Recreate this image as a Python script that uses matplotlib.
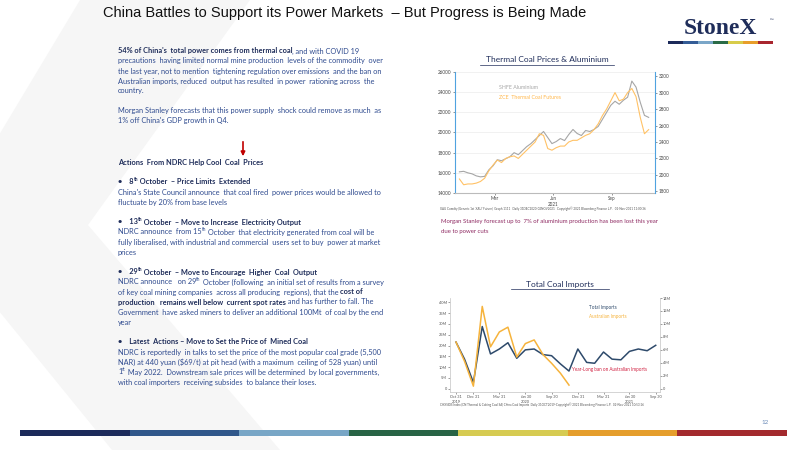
import numpy as np
import pandas as pd
import matplotlib
matplotlib.use("Agg")
import matplotlib.pyplot as plt
from matplotlib.patches import Polygon, Rectangle

plt.rcParams['font.family'] = ['Lato', 'DejaVu Sans']

# ---- data: thermal coal vs aluminium (weekly, 2021) ----
alu_shfe = [16100, 16150, 16000, 15900, 15700, 15600, 15650, 16300,
            16700, 17300, 17200, 17400, 17600, 18000, 17800, 18200, 18600,
            18900, 19300, 19700, 20100, 19500, 18900, 19100, 19400, 19200,
            19800, 20300, 19900, 19700, 20200, 20100, 20300, 20600, 21300,
            22000, 22700, 23100, 22800, 23200, 23500, 25100, 24500, 23000,
            21700, 21500]
coal_zce = [1950, 1880, 1890, 1890, 1900, 1920, 1960, 2050,
            2120, 2180, 2150, 2200, 2220, 2230, 2200, 2250, 2300,
            2350, 2400, 2500, 2480, 2320, 2300, 2330, 2350, 2350,
            2400, 2420, 2420, 2450, 2480, 2500, 2550, 2620, 2720,
            2800, 2900, 3000, 2900, 2920, 3000, 3050, 2950, 2700,
            2500, 2550]
price_dates = pd.date_range("2021-01-04", "2021-10-29", periods=len(alu_shfe))

# ---- data: monthly coal imports (millions of tonnes) ----
total_imports = [21.6, 13.7, 2.9, 28.8, 16.1, 18.4, 21.3, 14.1, 18.0, 18.4,
                 15.8, 15.3, 11.5, 8.2, 18.4, 12.2, 11.8, 17.0, 13.7, 13.4,
                 17.3, 18.4, 17.6, 20.1]
aus_imports = [21.6, 12.7, 1.2, 38.1, 19.4, 26.3, 28.5, 14.7, 20.9, 22.6,
               15.8, 11.8, 7.2, 1.7]
import_dates = pd.date_range("2019-10-31", periods=len(total_imports), freq="ME")

NAVY = "#1F2D5A"
BLUE = "#2F4B8F"

fig = plt.figure(figsize=(8, 4.5), dpi=100)
bg = fig.add_axes([0, 0, 1, 1], zorder=0)
bg.set_xlim(0, 800)
bg.set_ylim(450, 0)
bg.axis("off")

# watermark chevron
bg.add_patch(Polygon([(250, 0), (88, 225), (280, 450), (112, 450), (-10, 300),
                      (-10, 150), (80, 0)], closed=True, fc="#F6F6F6", ec="none"))

# title
bg.text(345, 13, "China Battles to Support its Power Markets  \u2013 But Progress is Being Made",
        ha="center", va="center", fontsize=10.5, color="#111111",
        family=["Liberation Sans", "DejaVu Sans"])

# logo
bg.text(720, 29, "StoneX", ha="center", va="center", fontsize=17, fontweight="bold",
        color=NAVY, family=["Liberation Serif", "DejaVu Serif"])
bg.text(770, 22, "\u2122", fontsize=3.5, color=NAVY)
logo_cols = ["#1C2A5A", "#345C96", "#7AA6C8", "#2A6B47", "#D8CC4A", "#E89E2A", "#A8262E"]
for i, c in enumerate(logo_cols):
    bg.add_patch(Rectangle((668 + i * 15, 41), 15, 3, fc=c, ec="none"))

# bottom bar
bar_cols = ["#1C2A5A", "#30578A", "#78A6C6", "#286445", "#D6CB52", "#E59E2C", "#A32A2E"]
for i, c in enumerate(bar_cols):
    bg.add_patch(Rectangle((20 + i * 109.5, 430), 109.5, 5.5, fc=c, ec="none"))
bg.text(765, 423, "12", fontsize=4.5, color="#6A8AB8", ha="center", va="center")

fig.canvas.draw()
renderer = fig.canvas.get_renderer()


def seg_line(x, y, segs, size=5.3):
    """Draw a line made of (text, bold, superscript) pieces side by side."""
    for txt, bold, sup in segs:
        fs = size * 0.65 if sup else size
        dy = -2.5 if sup else 0
        t = bg.text(x, y + dy, txt, fontsize=fs, va="center", ha="left",
                    color=NAVY if bold else BLUE,
                    fontweight="bold" if bold else "normal")
        x += t.get_window_extent(renderer).width


N, B, S = False, True, True
lines = [
    (51, [("54% of China's  total power comes from thermal coal", B, N),
          (", and with COVID 19", N, N)]),
    (61, [("precautions  having limited normal mine production  levels of the commodity  over", N, N)]),
    (71, [("the last year, not to mention  tightening regulation over emissions  and the ban on", N, N)]),
    (81, [("Australian imports, reduced  output has resulted  in power  rationing across  the", N, N)]),
    (91, [("country.", N, N)]),
    (110, [("Morgan Stanley forecasts that this power supply  shock could remove as much  as", N, N)]),
    (120, [("1% off China's GDP growth in Q4.", N, N)]),
    (162, [("Actions  From NDRC Help Cool  Coal  Prices", B, N)]),
    (182, [("\u2022    8", B, N), ("th", B, S), (" October  \u2013 Price Limits  Extended", B, N)]),
    (192, [("China's State Council announce  that coal fired  power prices would be allowed to", N, N)]),
    (202, [("fluctuate by 20% from base levels", N, N)]),
    (222, [("\u2022    13", B, N), ("th", B, S), (" October  \u2013 Move to Increase  Electricity Output", B, N)]),
    (232, [("NDRC announce  from 15", N, N), ("th", N, S),
           (" October  that electricity generated from coal will be", N, N)]),
    (242, [("fully liberalised, with industrial and commercial  users set to buy  power at market", N, N)]),
    (252, [("prices", N, N)]),
    (272, [("\u2022    29", B, N), ("th", B, S), (" October  \u2013 Move to Encourage  Higher  Coal  Output", B, N)]),
    (282, [("NDRC announce   on 29", N, N), ("th", N, S),
           (" October (following  an initial set of results from a survey", N, N)]),
    (292, [("of key coal mining companies  across all producing  regions), that the ", N, N),
           ("cost of", B, N)]),
    (302, [("production   remains well below  current spot rates", B, N),
           (" and has further to fall. The", N, N)]),
    (312, [("Government  have asked miners to deliver an additional 100Mt  of coal by the end", N, N)]),
    (322, [("year", N, N)]),
    (342, [("\u2022    Latest  Actions \u2013 Move to Set the Price of  Mined Coal", B, N)]),
    (352, [("NDRC is reportedly  in talks to set the price of the most popular coal grade (5,500", N, N)]),
    (362, [("NAR) at 440 yuan ($69/t) at pit head (with a maximum  ceiling of 528 yuan) until", N, N)]),
    (372, [("1", N, N), ("st", N, S),
           (" May 2022.  Downstream sale prices will be determined  by local governments,", N, N)]),
    (382, [("with coal importers  receiving subsides  to balance their loses.", N, N)]),
]
for y, segs in lines:
    seg_line(118, y, segs)

bg.annotate("", xy=(243, 159), xytext=(243, 139),
            arrowprops=dict(arrowstyle="-|>", color="#C00000", lw=1.2, mutation_scale=6))

# ---- top chart ----
ax1 = fig.add_axes([455 / 800, 1 - 193 / 450, 200 / 800, 121 / 450], zorder=2)
ax1.plot(price_dates, alu_shfe, color="#A6A6A6", lw=0.8)
ax1.set_ylim(14000, 26000)
ax1.set_yticks(range(14000, 26001, 2000))
ax1r = ax1.twinx()
ax1r.plot(price_dates, coal_zce, color="#FFC266", lw=0.8)
ax1r.set_ylim(1780, 3250)
ax1r.set_yticks(range(1800, 3201, 200))
ax1.set_xlim(pd.Timestamp("2020-12-28"), pd.Timestamp("2021-11-08"))
ax1.set_xticks([pd.Timestamp("2021-03-01"), pd.Timestamp("2021-06-01"), pd.Timestamp("2021-09-01")])
ax1.set_xticklabels(["Mar", "Jun\n2021", "Sep"])
for a in (ax1, ax1r):
    a.tick_params(labelsize=3.3, length=1.5, width=0.4, pad=1, colors="#444444")
    for s in a.spines.values():
        s.set_visible(False)
ax1.spines["left"].set_visible(True)
ax1.spines["left"].set_color("#4FA3E0")
ax1.spines["bottom"].set_visible(True)
ax1.spines["bottom"].set_color("#BBBBBB")
ax1r.spines["right"].set_visible(True)
ax1r.spines["right"].set_color("#4FA3E0")
ax1.grid(axis="y", color="#E6E6E6", lw=0.4)
ax1.text(0.22, 0.86, "SHFE Aluminium", transform=ax1.transAxes, fontsize=3.8, color="#A6A6A6")
ax1.text(0.22, 0.78, "ZCE  Thermal Coal Futures", transform=ax1.transAxes, fontsize=3.8, color="#FFB84D")

bg.text(547, 60, "Thermal Coal Prices & Aluminium", ha="center", va="center",
        fontsize=6, color=NAVY)
bg.plot([480, 614], [65, 65], color=NAVY, lw=0.5)
bg.text(440, 209, "XAU Comdty (Generic 1st 'XAU' Future)  Graph 1111   Daily 31DEC2020-02NOV2021   "
        "Copyright\u00a9 2021 Bloomberg Finance L.P.   02-Nov-2021 11:00:36",
        fontsize=2.2, color="#555555", va="center")
bg.text(441, 222, "Morgan Stanley forecast up to  7% of aluminium production has been lost this year",
        fontsize=4.3, color="#8E2A62", va="center")
bg.text(441, 232, "due to power cuts", fontsize=4.3, color="#8E2A62", va="center")

# ---- bottom chart ----
ax2 = fig.add_axes([450 / 800, 1 - 392 / 450, 210 / 800, 94 / 450], zorder=2)
ax2.plot(import_dates, total_imports, color="#2E4A6B", lw=1.1)
ax2.plot(import_dates[:len(aus_imports)], aus_imports, color="#F6B33C", lw=1.1)
ax2.set_ylim(-1.5, 42)
ax2.set_yticks(range(0, 41, 5))
ax2.set_yticklabels(["0"] + [f"{v}M" for v in range(5, 41, 5)])
ax2r = ax2.twinx()
ax2r.set_ylim(-0.5, 14)
ax2r.set_yticks(range(0, 15, 2))
ax2r.set_yticklabels(["0"] + [f"{v}M" for v in range(2, 15, 2)])
ax2.set_xlim(pd.Timestamp("2019-10-10"), pd.Timestamp("2021-10-15"))
tick_d = ["2019-10-31", "2019-12-31", "2020-03-31", "2020-06-30", "2020-09-30",
          "2020-12-31", "2021-03-31", "2021-06-30", "2021-09-30"]
tick_l = ["Oct 31\n2019", "Dec 31", "Mar 31", "Jun 30\n2020", "Sep 30",
          "Dec 31", "Mar 31", "Jun 30\n2021", "Sep 30"]
ax2.set_xticks([pd.Timestamp(d) for d in tick_d])
ax2.set_xticklabels(tick_l)
for a in (ax2, ax2r):
    a.tick_params(labelsize=2.8, length=1.2, width=0.4, pad=1, colors="#555555")
    for s in a.spines.values():
        s.set_color("#CCCCCC")
        s.set_linewidth(0.4)
ax2.spines["top"].set_visible(False)
ax2r.spines["top"].set_visible(False)
ax2.text(0.66, 0.88, "Total Imports", transform=ax2.transAxes, fontsize=3.3, color="#2E4A6B")
ax2.text(0.66, 0.79, "Australian Imports", transform=ax2.transAxes, fontsize=3.3, color="#F6B33C")
ax2.text(0.58, 0.22, "Year-Long ban on Australian Imports", transform=ax2.transAxes,
         fontsize=3.3, color="#D02040")

bg.text(560, 284, "Total Coal Imports", ha="center", va="center", fontsize=6, color=NAVY)
bg.plot([511, 609], [289, 289], color=NAVY, lw=0.5)
bg.text(440, 405, "CHXSIDS Index (CN Thermal & Coking Coal SA) China Coal Imports  Daily 31OCT2019-"
        "Copyright\u00a9 2021 Bloomberg Finance L.P.  02-Nov-2021 10:53:16",
        fontsize=2.2, color="#555555", va="center")

fig.savefig("out.png", dpi=100)
